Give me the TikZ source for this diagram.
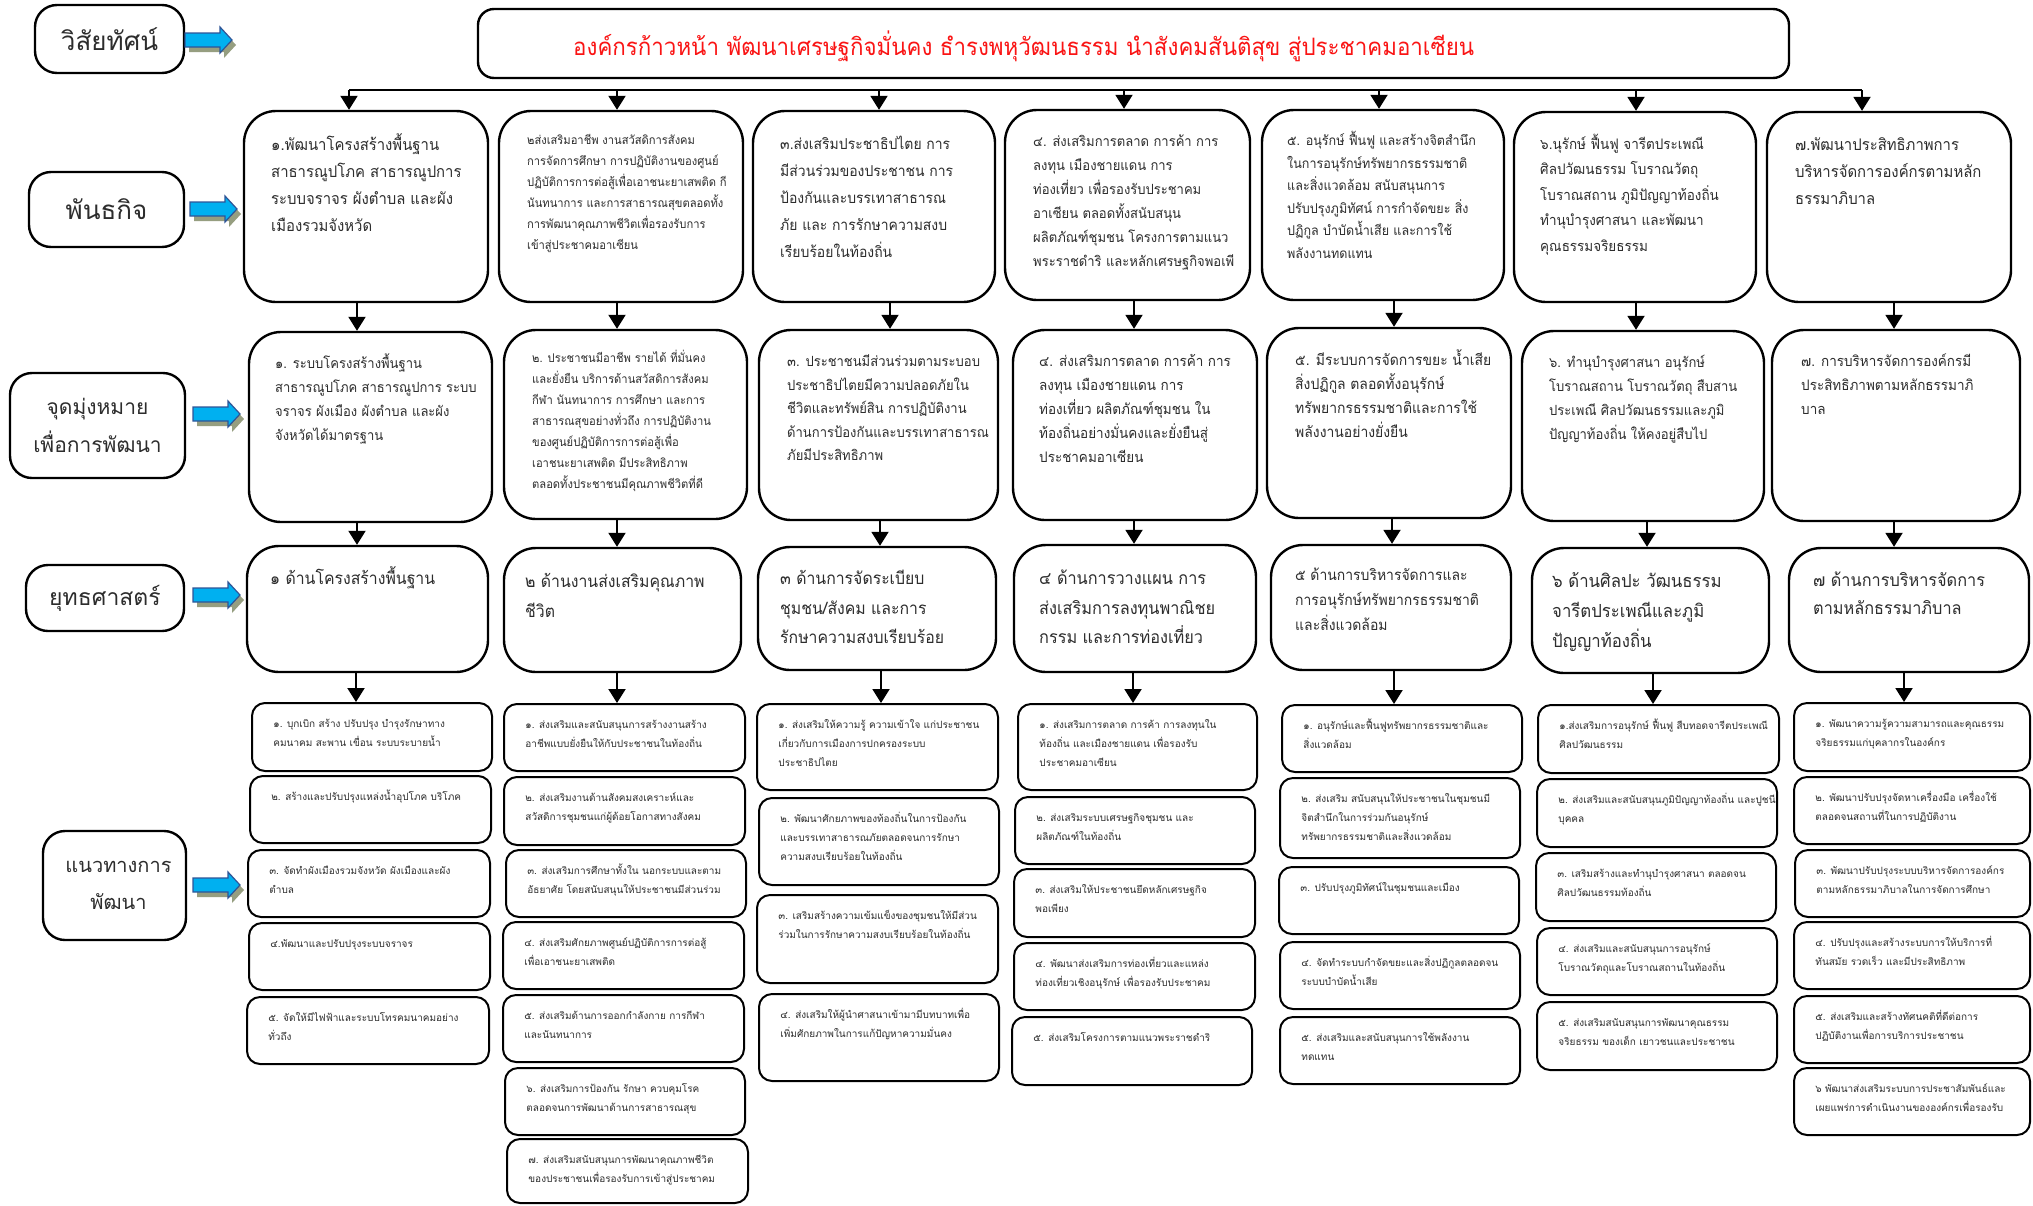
\documentclass[tikz,border=0pt]{standalone}
\usepackage{fontspec}
\setmainfont{Loma}[Script=Thai]
\newfontfamily\thn{Loma}[Script=Thai,FakeStretch=0.93]
\usetikzlibrary{fit,arrows.meta}
\definecolor{arrowblue}{RGB}{0,176,240}
\definecolor{arrowline}{RGB}{47,85,151}
\definecolor{shadowc}{RGB}{150,158,128}
\definecolor{titlered}{RGB}{250,20,20}
\definecolor{ink}{RGB}{45,45,45}
\tikzset{
  mainbox/.style={draw, line width=1.2pt, rounded corners=16pt, inner sep=0pt, fill=white},
  smallbox/.style={draw, line width=1pt, rounded corners=6.5pt, inner sep=0pt, fill=white},
  labelbox/.style={draw, line width=1.2pt, rounded corners=11pt, inner sep=0pt, fill=white},
  titlebox/.style={draw, line width=1.2pt, rounded corners=8pt, inner sep=0pt, fill=white},
  txt/.style={anchor=north west, align=left, inner sep=0pt, text=ink},
  lab/.style={align=center, inner sep=0pt, text=ink},
  conn/.style={line width=1pt, -{Triangle[width=8.5pt,length=7pt]}},
  fb/.style={font=\fontsize{5}{9.5}\selectfont},
}
\newcommand\bx[9]{%
  \node[#6, fit={(#2,#3)(#4,#5)}] (#1) {};
  \node[txt,#8] (#1t) at ([shift={(#7)}]#1.north west) {\strut #9};
}
\newcommand\sbx[6]{\bx{#1}{#2}{#3}{#4}{#5}{smallbox}{22,12}{fb}{#6}}
\newcommand\barrow[2]{%
  \fill[shadowc] (#1+4,#2-2) -- (#1+39,#2-2) -- (#1+39,#2-8) -- (#1+51,#2+5) -- (#1+39,#2+18) -- (#1+39,#2+12) -- (#1+4,#2+12) -- cycle;
  \filldraw[fill=arrowblue, draw=arrowline, line width=0.6pt] (#1,#2-7) -- (#1+35,#2-7) -- (#1+35,#2-13) -- (#1+47,#2) -- (#1+35,#2+13) -- (#1+35,#2+7) -- (#1,#2+7) -- cycle;
}
\begin{document}
\begin{tikzpicture}[x=0.5pt,y=-0.5pt]
\fill[white] (0,0) rectangle (2033,1205);
\useasboundingbox (0,0) rectangle (2033,1205);

% ---------- left labels ----------
\node[labelbox, fit={(35,5)(184,73)}] (L1) {};
\node[lab, font=\fontsize{13}{18}\selectfont] (L1t) at (L1.center) {วิสัยทัศน์};
\node[labelbox, fit={(29,172)(184,247)}] (L2) {};
\node[lab, font=\fontsize{13}{18}\selectfont] (L2t) at (L2.center) {พันธกิจ};
\node[labelbox, fit={(10,373)(185,478)}] (L3) {};
\node[lab, font=\fontsize{10.5}{19}\selectfont] (L3t) at (L3.center) {จุดมุ่งหมาย\\เพื่อการพัฒนา};
\node[labelbox, fit={(26,565)(184,631)}] (L4) {};
\node[lab, font=\fontsize{11.5}{16}\selectfont] (L4t) at (L4.center) {ยุทธศาสตร์};
\node[labelbox, fit={(43,831)(186,940)}] (L5) {};
\node[lab, font=\fontsize{10}{18.5}\selectfont] (L5t) at ([shift={(4,0)}]L5.center) {แนวทางการ\\พัฒนา};

\barrow{185}{40}
\barrow{190}{209}
\barrow{193}{414}
\barrow{193}{595}
\barrow{193}{885}

% ---------- title ----------
\node[titlebox, fit={(478,9)(1789,78)}] (T) {};
\node[anchor=west, inner sep=0pt, text=titlered, font=\fontsize{12}{16}\selectfont\thn] (Tt) at ([shift={(96,3)}]T.west) {องค์กรก้าวหน้า พัฒนาเศรษฐกิจมั่นคง ธำรงพหุวัฒนธรรม นำสังคมสันติสุข สู่ประชาคมอาเซียน};

% ---------- mission row ----------
\bx{m1}{244}{111}{488}{302}{mainbox}{28,21}{font=\fontsize{8}{13.5}\selectfont\thn}{๑.พัฒนาโครงสร้างพื้นฐาน\\สาธารณูปโภค  สาธารณูปการ\\ระบบจราจร ผังตำบล และผัง\\เมืองรวมจังหวัด}
\bx{m2}{499}{111}{743}{302}{mainbox}{29,20}{font=\fontsize{6}{10.5}\selectfont\thn}{๒ส่งเสริมอาชีพ  งานสวัสดิการสังคม\\การจัดการศึกษา  การปฏิบัติงานของศูนย์\\ปฏิบัติการการต่อสู้เพื่อเอาชนะยาเสพติด  กี\\นันทนาการ  และการสาธารณสุขตลอดทั้ง\\การพัฒนาคุณภาพชีวิตเพื่อรองรับการ\\เข้าสู่ประชาคมอาเซียน}
\bx{m3}{753}{111}{995}{302}{mainbox}{28,20}{font=\fontsize{7.5}{13.5}\selectfont\thn}{๓.ส่งเสริมประชาธิปไตย การ\\มีส่วนร่วมของประชาชน การ\\ป้องกันและบรรเทาสาธารณ\\ภัย และ การรักษาความสงบ\\เรียบร้อยในท้องถิ่น}
\bx{m4}{1005}{110}{1250}{300}{mainbox}{29,20}{font=\fontsize{7}{12}\selectfont\thn}{๔. ส่งเสริมการตลาด การค้า การ\\ลงทุน เมืองชายแดน การ\\ท่องเที่ยว เพื่อรองรับประชาคม\\อาเซียน ตลอดทั้งสนับสนุน\\ผลิตภัณฑ์ชุมชน  โครงการตามแนว\\พระราชดำริ และหลักเศรษฐกิจพอเพี}
\bx{m5}{1262}{110}{1504}{300}{mainbox}{26,21}{font=\fontsize{6.75}{11.25}\selectfont\thn}{๕. อนุรักษ์ ฟื้นฟู และสร้างจิตสำนึก\\ในการอนุรักษ์ทรัพยากรธรรมชาติ\\และสิ่งแวดล้อม  สนับสนุนการ\\ปรับปรุงภูมิทัศน์  การกำจัดขยะ สิ่ง\\ปฏิกูล บำบัดน้ำเสีย และการใช้\\พลังงานทดแทน}
\bx{m6}{1514}{112}{1756}{302}{mainbox}{27,20}{font=\fontsize{7.25}{12.75}\selectfont\thn}{๖.นุรักษ์ ฟื้นฟู จารีตประเพณี\\ศิลปวัฒนธรรม  โบราณวัตถุ\\โบราณสถาน ภูมิปัญญาท้องถิ่น\\ทำนุบำรุงศาสนา และพัฒนา\\คุณธรรมจริยธรรม}
\bx{m7}{1767}{112}{2011}{302}{mainbox}{29,20}{font=\fontsize{8}{13.5}\selectfont\thn}{๗.พัฒนาประสิทธิภาพการ\\บริหารจัดการองค์กรตามหลัก\\ธรรมาภิบาล}

% ---------- goals row ----------
\bx{g1}{249}{332}{492}{522}{mainbox}{27,20}{font=\fontsize{7}{12}\selectfont\thn}{๑. ระบบโครงสร้างพื้นฐาน\\สาธารณูปโภค สาธารณูปการ  ระบบ\\จราจร ผังเมือง ผังตำบล และผัง\\จังหวัดได้มาตรฐาน}
\bx{g2}{504}{330}{747}{519}{mainbox}{29,19}{font=\fontsize{6}{10.5}\selectfont\thn}{๒. ประชาชนมีอาชีพ รายได้ ที่มั่นคง\\และยั่งยืน บริการด้านสวัสดิการสังคม\\กีฬา นันทนาการ  การศึกษา และการ\\สาธารณสุขอย่างทั่วถึง การปฏิบัติงาน\\ของศูนย์ปฏิบัติการการต่อสู้เพื่อ\\เอาชนะยาเสพติด มีประสิทธิภาพ\\ตลอดทั้งประชาชนมีคุณภาพชีวิตที่ดี}
\bx{g3}{759}{330}{998}{520}{mainbox}{29,21}{font=\fontsize{7}{11.75}\selectfont\thn}{๓. ประชาชนมีส่วนร่วมตามระบอบ\\ประชาธิปไตยมีความปลอดภัยใน\\ชีวิตและทรัพย์สิน การปฏิบัติงาน\\ด้านการป้องกันและบรรเทาสาธารณ\\ภัยมีประสิทธิภาพ}
\bx{g4}{1013}{330}{1257}{520}{mainbox}{27,20}{font=\fontsize{7.25}{12}\selectfont\thn}{๔. ส่งเสริมการตลาด การค้า การ\\ลงทุน เมืองชายแดน  การ\\ท่องเที่ยว ผลิตภัณฑ์ชุมชน ใน\\ท้องถิ่นอย่างมั่นคงและยั่งยืนสู่\\ประชาคมอาเซียน}
\bx{g5}{1267}{328}{1511}{518}{mainbox}{29,21}{font=\fontsize{7.5}{12}\selectfont\thn}{๕. มีระบบการจัดการขยะ น้ำเสีย\\สิ่งปฏิกูล ตลอดทั้งอนุรักษ์\\ทรัพยากรธรรมชาติและการใช้\\พลังงานอย่างยั่งยืน}
\bx{g6}{1522}{331}{1764}{521}{mainbox}{28,20}{font=\fontsize{7}{12}\selectfont\thn}{๖. ทำนุบำรุงศาสนา อนุรักษ์\\โบราณสถาน โบราณวัตถุ สืบสาน\\ประเพณี  ศิลปวัฒนธรรมและภูมิ\\ปัญญาท้องถิ่น ให้คงอยู่สืบไป}
\bx{g7}{1772}{330}{2020}{521}{mainbox}{30,20}{font=\fontsize{7.25}{12}\selectfont\thn}{๗. การบริหารจัดการองค์กรมี\\ประสิทธิภาพตามหลักธรรมาภิ\\บาล}

% ---------- strategy row ----------
\bx{s1}{247}{546}{488}{672}{mainbox}{24,18}{font=\fontsize{8.5}{15}\selectfont\thn}{๑ ด้านโครงสร้างพื้นฐาน}
\bx{s2}{504}{548}{741}{672}{mainbox}{22,19}{font=\fontsize{8.5}{15}\selectfont\thn}{๒ ด้านงานส่งเสริมคุณภาพ\\ชีวิต}
\bx{s3}{758}{547}{996}{670}{mainbox}{23,18}{font=\fontsize{8.5}{14.75}\selectfont\thn}{๓ ด้านการจัดระเบียบ\\ชุมชน/สังคม และการ\\รักษาความสงบเรียบร้อย}
\bx{s4}{1014}{545}{1256}{672}{mainbox}{26,20}{font=\fontsize{8.75}{14.75}\selectfont\thn}{๔ ด้านการวางแผน การ\\ส่งเสริมการลงทุนพาณิชย\\กรรม และการท่องเที่ยว}
\bx{s5}{1271}{545}{1511}{670}{mainbox}{25,19}{font=\fontsize{7.5}{12.5}\selectfont\thn}{๕ ด้านการบริหารจัดการและ\\การอนุรักษ์ทรัพยากรธรรมชาติ\\และสิ่งแวดล้อม}
\bx{s6}{1532}{548}{1769}{673}{mainbox}{21,19}{font=\fontsize{9}{15}\selectfont\thn}{๖ ด้านศิลปะ วัฒนธรรม\\จารีตประเพณีและภูมิ\\ปัญญาท้องถิ่น}
\bx{s7}{1789}{548}{2029}{672}{mainbox}{25,19}{font=\fontsize{8.75}{14.25}\selectfont\thn}{๗ ด้านการบริหารจัดการ\\ตามหลักธรรมาภิบาล}

% ---------- guideline boxes ----------
\sbx{p1a}{252}{703}{492}{771}{๑. บุกเบิก สร้าง ปรับปรุง บำรุงรักษาทาง\\คมนาคม สะพาน เขื่อน ระบบระบายน้ำ}
\sbx{p1b}{250}{776}{491}{843}{๒. สร้างและปรับปรุงแหล่งน้ำอุปโภค  บริโภค}
\sbx{p1c}{248}{850}{490}{917}{๓. จัดทำผังเมืองรวมจังหวัด ผังเมืองและผัง\\ตำบล}
\sbx{p1d}{249}{923}{490}{990}{๔.พัฒนาและปรับปรุงระบบจราจร}
\sbx{p1e}{247}{997}{489}{1064}{๕. จัดให้มีไฟฟ้าและระบบโทรคมนาคมอย่าง\\ทั่วถึง}

\sbx{p2a}{504}{704}{745}{771}{๑. ส่งเสริมและสนับสนุนการสร้างงานสร้าง\\อาชีพแบบยั่งยืนให้กับประชาชนในท้องถิ่น}
\sbx{p2b}{504}{777}{745}{845}{๒. ส่งเสริมงานด้านสังคมสงเคราะห์และ\\สวัสดิการชุมชนแก่ผู้ด้อยโอกาสทางสังคม}
\sbx{p2c}{506}{850}{746}{917}{๓. ส่งเสริมการศึกษาทั้งใน นอกระบบและตาม\\อัธยาศัย โดยสนับสนุนให้ประชาชนมีส่วนร่วม}
\sbx{p2d}{503}{922}{744}{989}{๔. ส่งเสริมศักยภาพศูนย์ปฏิบัติการการต่อสู้\\เพื่อเอาชนะยาเสพติด}
\sbx{p2e}{503}{995}{744}{1062}{๕. ส่งเสริมด้านการออกกำลังกาย การกีฬา\\และนันทนาการ}
\sbx{p2f}{505}{1068}{745}{1135}{๖. ส่งเสริมการป้องกัน รักษา ควบคุมโรค\\ตลอดจนการพัฒนาด้านการสาธารณสุข}
\sbx{p2g}{507}{1139}{748}{1203}{๗. ส่งเสริมสนับสนุนการพัฒนาคุณภาพชีวิต\\ของประชาชนเพื่อรองรับการเข้าสู่ประชาคม}

\sbx{p3a}{757}{704}{998}{790}{๑. ส่งเสริมให้ความรู้ ความเข้าใจ แก่ประชาชน\\เกี่ยวกับการเมืองการปกครองระบบ\\ประชาธิปไตย}
\sbx{p3b}{759}{798}{999}{885}{๒. พัฒนาศักยภาพของท้องถิ่นในการป้องกัน\\และบรรเทาสาธารณภัยตลอดจนการรักษา\\ความสงบเรียบร้อยในท้องถิ่น}
\sbx{p3c}{757}{895}{998}{983}{๓. เสริมสร้างความเข้มแข็งของชุมชนให้มีส่วน\\ร่วมในการรักษาความสงบเรียบร้อยในท้องถิ่น}
\sbx{p3d}{759}{994}{999}{1081}{๔. ส่งเสริมให้ผู้นำศาสนาเข้ามามีบทบาทเพื่อ\\เพิ่มศักยภาพในการแก้ปัญหาความมั่นคง}

\sbx{p4a}{1018}{704}{1257}{790}{๑. ส่งเสริมการตลาด การค้า การลงทุนใน\\ท้องถิ่น และเมืองชายแดน เพื่อรองรับ\\ประชาคมอาเซียน}
\sbx{p4b}{1015}{797}{1255}{864}{๒. ส่งเสริมระบบเศรษฐกิจชุมชน และ\\ผลิตภัณฑ์ในท้องถิ่น}
\sbx{p4c}{1014}{869}{1255}{937}{๓. ส่งเสริมให้ประชาชนยึดหลักเศรษฐกิจ\\พอเพียง}
\sbx{p4d}{1014}{943}{1255}{1010}{๔. พัฒนาส่งเสริมการท่องเที่ยวและแหล่ง\\ท่องเที่ยวเชิงอนุรักษ์ เพื่อรองรับประชาคม}
\sbx{p4e}{1012}{1017}{1252}{1085}{๕. ส่งเสริมโครงการตามแนวพระราชดำริ}

\sbx{p5a}{1282}{705}{1522}{772}{๑. อนุรักษ์และฟื้นฟูทรัพยากรธรรมชาติและ\\สิ่งแวดล้อม}
\sbx{p5b}{1280}{778}{1520}{858}{๒. ส่งเสริม สนับสนุนให้ประชาชนในชุมชนมี\\จิตสำนึกในการร่วมกันอนุรักษ์\\ทรัพยากรธรรมชาติและสิ่งแวดล้อม}
\sbx{p5c}{1279}{867}{1519}{934}{๓. ปรับปรุงภูมิทัศน์ในชุมชนและเมือง}
\sbx{p5d}{1280}{942}{1520}{1009}{๔. จัดทำระบบกำจัดขยะและสิ่งปฏิกูลตลอดจน\\ระบบบำบัดน้ำเสีย}
\sbx{p5e}{1280}{1017}{1520}{1084}{๕. ส่งเสริมและสนับสนุนการใช้พลังงาน\\ทดแทน}

\sbx{p6a}{1538}{705}{1779}{773}{๑.ส่งเสริมการอนุรักษ์ ฟื้นฟู สืบทอดจารีตประเพณี\\ศิลปวัฒนธรรม}
\sbx{p6b}{1537}{779}{1777}{847}{๒. ส่งเสริมและสนับสนุนภูมิปัญญาท้องถิ่น และปูชนี\\บุคคล}
\sbx{p6c}{1536}{853}{1776}{921}{๓. เสริมสร้างและทำนุบำรุงศาสนา ตลอดจน\\ศิลปวัฒนธรรมท้องถิ่น}
\sbx{p6d}{1537}{928}{1777}{995}{๔. ส่งเสริมและสนับสนุนการอนุรักษ์\\โบราณวัตถุและโบราณสถานในท้องถิ่น}
\sbx{p6e}{1537}{1002}{1777}{1070}{๕. ส่งเสริมสนับสนุนการพัฒนาคุณธรรม\\จริยธรรม ของเด็ก เยาวชนและประชาชน}

\sbx{p7a}{1794}{703}{2030}{771}{๑. พัฒนาความรู้ความสามารถและคุณธรรม\\จริยธรรมแก่บุคลากรในองค์กร}
\sbx{p7b}{1794}{777}{2030}{844}{๒. พัฒนาปรับปรุงจัดหาเครื่องมือ เครื่องใช้\\ตลอดจนสถานที่ในการปฏิบัติงาน}
\sbx{p7c}{1795}{850}{2030}{917}{๓. พัฒนาปรับปรุงระบบบริหารจัดการองค์กร\\ตามหลักธรรมาภิบาลในการจัดการศึกษา}
\sbx{p7d}{1794}{922}{2030}{989}{๔. ปรับปรุงและสร้างระบบการให้บริการที่\\ทันสมัย รวดเร็ว และมีประสิทธิภาพ}
\sbx{p7e}{1794}{996}{2030}{1063}{๕. ส่งเสริมและสร้างทัศนคติที่ดีต่อการ\\ปฏิบัติงานเพื่อการบริการประชาชน}
\sbx{p7f}{1794}{1068}{2030}{1135}{๖ พัฒนาส่งเสริมระบบการประชาสัมพันธ์และ\\เผยแพร่การดำเนินงานขององค์กรเพื่อรองรับ}

% ---------- connectors ----------
\coordinate (b1) at (349,90);
\coordinate (b2) at (617,90);
\coordinate (b3) at (879,90);
\coordinate (b4) at (1124,90);
\coordinate (b5) at (1379,90);
\coordinate (b6) at (1636,90);
\coordinate (b7) at (1862,90);
\draw[line width=1pt] (b1) -- (b7);
\foreach \i in {1,...,7}{\draw[conn] (b\i) -- (b\i |- m\i.north);}

\foreach \i/\xa/\xb/\xc in {1/357/357/356, 2/617/617/617, 3/890/880/881, 4/1134/1134/1133, 5/1394/1392/1394, 6/1636/1647/1653, 7/1894/1894/1904}{
  \coordinate (ua\i) at (\xa,0);
  \coordinate (ub\i) at (\xb,0);
  \coordinate (uc\i) at (\xc,0);
  \draw[conn] (ua\i |- m\i.south) -- (ua\i |- g\i.north);
  \draw[conn] (ub\i |- g\i.south) -- (ub\i |- s\i.north);
  \draw[conn] (uc\i |- s\i.south) -- (uc\i |- p\i a.north);
}
\end{tikzpicture}
\end{document}
